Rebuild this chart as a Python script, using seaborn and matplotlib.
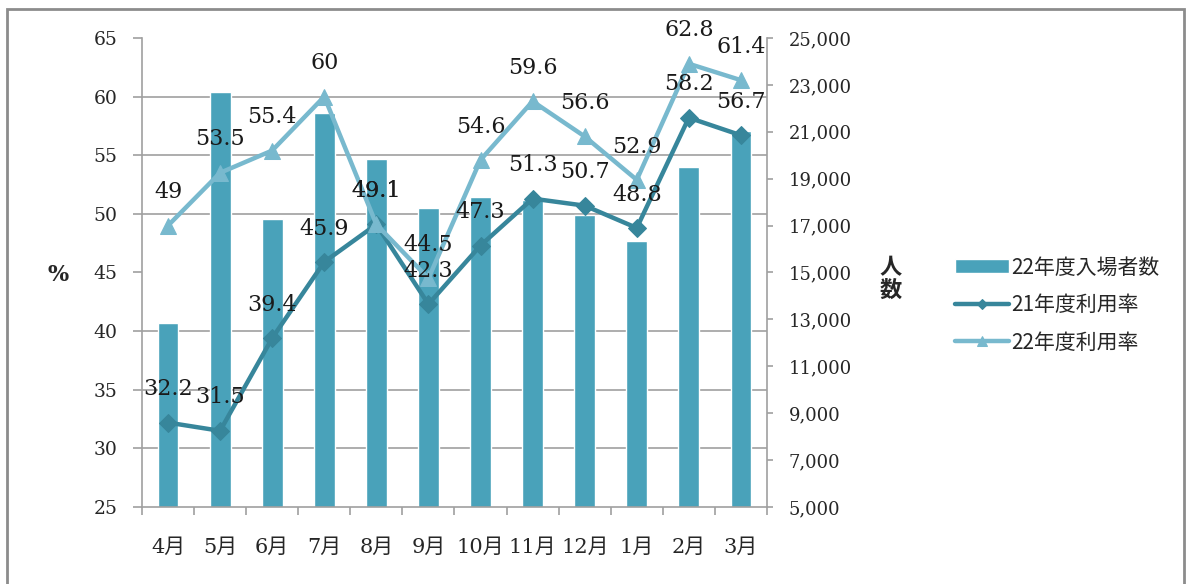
import numpy as np
import pandas as pd
import seaborn as sns
import matplotlib.pyplot as plt
from matplotlib.patches import Rectangle

months = ["4月", "5月", "6月", "7月", "8月", "9月", "10月", "11月", "12月", "1月", "2月", "3月"]
visitors_22 = [12850, 22700, 17280, 21800, 19840, 17750, 18220, 18090, 17450, 16340, 19500, 21030]
rate_21 = [32.2, 31.5, 39.4, 45.9, 49.1, 42.3, 47.3, 51.3, 50.7, 48.8, 58.2, 56.7]
rate_22 = [49, 53.5, 55.4, 60, 49.1, 44.5, 54.6, 59.6, 56.6, 52.9, 62.8, 61.4]

bar_color = "#49a2ba"
dark_color = "#37869b"
light_color = "#78b9ce"
axis_color = "#a0a0a0"

sns.set_theme(style="white")
plt.rcParams["font.family"] = ["DejaVu Serif", "Noto Sans CJK JP"]

fig = plt.figure(figsize=(11.86, 5.84), dpi=100)
ax1 = fig.add_axes([0.1197, 0.1318, 0.527, 0.8032])

df = pd.DataFrame({"month": months, "visitors": visitors_22,
                   "r21": rate_21, "r22": rate_22, "pos": np.arange(len(months))})

# bars (right axis, 人数)
sns.barplot(data=df, x="month", y="visitors", ax=ax1, color=bar_color,
            width=0.4, saturation=1, label="22年度入場者数", zorder=2)
if ax1.get_legend() is not None:
    ax1.get_legend().remove()

# lines (left axis, %)
ax2 = ax1.twinx()
sns.lineplot(data=df, x="pos", y="r21", ax=ax2, color=dark_color, lw=3.2,
             marker="D", markersize=9, markeredgecolor=dark_color, label="21年度利用率")
sns.lineplot(data=df, x="pos", y="r22", ax=ax2, color=light_color, lw=3.2,
             marker="^", markersize=12, markeredgecolor=light_color, label="22年度利用率")
ax2.get_legend().remove()

# right axis: visitors
ax1.set_xlim(-0.5, len(months) - 0.5)
ax1.set_ylim(5000, 25000)
ax1.set_yticks(np.arange(5000, 25001, 2000))
ax1.set_yticklabels([f"{v:,}" for v in range(5000, 25001, 2000)])
ax1.yaxis.tick_right()
ax1.yaxis.set_label_position("right")
# grid follows the % ticks of the left axis
ax1.set_yticks(np.arange(7500, 25001, 2500), minor=True)
ax1.grid(which="minor", axis="y", color=axis_color, lw=1.2, zorder=0)
ax1.set_axisbelow(True)
ax1.set_xticks(np.arange(-0.5, len(months), 1), minor=True)
ax1.tick_params(axis="x", which="major", length=0, pad=22, labelsize=15)
ax1.tick_params(axis="x", which="minor", length=6, color=axis_color, width=1.2, bottom=True)
ax1.tick_params(axis="y", which="major", length=4.5, color=axis_color, width=1.2,
                right=True, left=False, labelright=True, labelleft=False, pad=11, labelsize=13)
ax1.tick_params(axis="y", which="minor", length=0, right=False, left=False)
ax1.set_xlabel("")
ax1.set_ylabel("")
for s in ["top", "left"]:
    ax1.spines[s].set_visible(False)
for s in ["bottom", "right"]:
    ax1.spines[s].set_color(axis_color)
    ax1.spines[s].set_linewidth(1.2)

# left axis: percent
ax2.set_ylim(25, 65)
ax2.set_yticks(np.arange(25, 66, 5))
ax2.yaxis.tick_left()
ax2.tick_params(axis="y", length=6.5, color=axis_color, width=1.2, left=True, right=False,
                labelleft=True, labelright=False, pad=11, labelsize=13.5)
ax2.set_xlabel("")
ax2.set_ylabel("")
ax2.set_xlim(-0.5, len(months) - 0.5)
for s in ["top", "bottom", "right"]:
    ax2.spines[s].set_visible(False)
ax2.spines["left"].set_visible(True)
ax2.spines["left"].set_color(axis_color)
ax2.spines["left"].set_linewidth(1.2)

for vals in (rate_21, rate_22):
    for i, v in enumerate(vals):
        ax2.annotate(f"{v:g}", (i, v), xytext=(0, 24), textcoords="offset points",
                     ha="center", va="center", fontsize=16, color="#1a1a1a")

fig.text(0.049, 0.529, "%", fontsize=16, fontweight="bold", ha="center", va="center")
fig.text(0.751, 0.522, "人\n数", fontsize=16, fontweight="bold", ha="center", va="center",
         linespacing=1.0, family=["Noto Sans CJK JP"])

h1, l1 = ax1.get_legend_handles_labels()
h2, l2 = ax2.get_legend_handles_labels()
fig.legend(h1 + h2, l1 + l2, loc="upper left", bbox_to_anchor=(0.789, 0.593),
           frameon=False, prop={"family": "Noto Sans CJK JP", "size": 15},
           handlelength=2.6, handletextpad=0.1, labelspacing=0.75, markerscale=0.6)

fig.add_artist(Rectangle((0.006, -0.05), 0.992, 1.035, transform=fig.transFigure,
                         fill=False, edgecolor="#8c8c8c", lw=2))

fig.savefig("out.png", dpi=100)
